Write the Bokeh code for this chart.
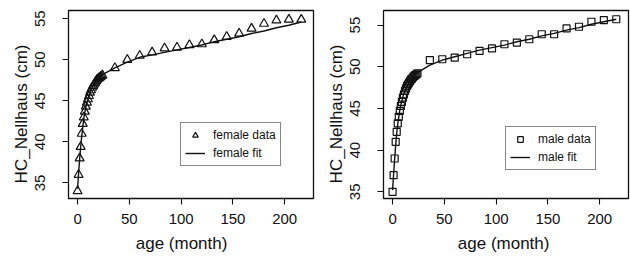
from bokeh.plotting import figure
from bokeh.layouts import row
from bokeh.models import Range1d, FixedTicker, Legend, LegendItem
from bokeh.embed import file_html
from bokeh.resources import INLINE

# ---------------- data ----------------
female_age = list(range(0, 25)) + [36, 48, 60, 72, 84, 96, 108, 120, 132, 144, 156, 168, 180, 192, 204, 216]
female_hc = [34.0, 36.0, 38.0, 39.4, 41.0, 42.2, 43.0, 43.7, 44.3, 44.8, 45.2, 45.6, 46.0, 46.3, 46.6,
             46.8, 47.0, 47.2, 47.4, 47.6, 47.7, 47.8, 47.9, 48.0, 48.1,
             49.0, 50.0, 50.5, 50.9, 51.4, 51.5, 51.8, 51.9, 52.4, 52.8, 53.2, 53.8, 54.4, 54.8, 54.9, 54.9]
female_fit = [34.3, 36.2, 37.9, 39.4, 40.7, 41.8, 42.8, 43.6, 44.2, 44.8, 45.2, 45.6, 46.0, 46.3, 46.6,
              46.9, 47.1, 47.3, 47.5, 47.7, 47.8, 47.9, 48.0, 48.1, 48.2,
              49.0, 49.7, 50.3, 50.6, 50.9, 51.2, 51.5, 51.8, 52.2, 52.5, 52.8, 53.2, 53.5, 53.9, 54.2, 54.6]

male_age = list(range(0, 25)) + [36, 48, 60, 72, 84, 96, 108, 120, 132, 144, 156, 168, 180, 192, 204, 216]
male_hc = [35.0, 37.0, 39.0, 41.0, 42.2, 43.2, 44.0, 44.7, 45.3, 45.8, 46.3, 46.7, 47.1, 47.4, 47.7,
           47.9, 48.1, 48.3, 48.5, 48.6, 48.8, 48.9, 49.0, 49.1, 49.2,
           50.8, 50.9, 51.1, 51.5, 51.9, 52.2, 52.7, 52.9, 53.3, 53.9, 53.9, 54.6, 54.8, 55.4, 55.6, 55.7]
male_fit = [35.2, 37.1, 38.9, 40.6, 42.0, 43.1, 44.0, 44.8, 45.4, 45.9, 46.4, 46.8, 47.1, 47.4, 47.7,
            47.9, 48.1, 48.3, 48.5, 48.7, 48.9, 49.0, 49.1, 49.2, 49.3,
            50.2, 50.8, 51.2, 51.6, 52.0, 52.3, 52.6, 53.0, 53.3, 53.7, 54.0, 54.4, 54.7, 55.1, 55.4, 55.7]

x_ticks = [0, 50, 100, 150, 200]
y_ticks = [35, 40, 45, 50, 55]
x_label = "age (month)"
y_label = "HC_Nellhaus (cm)"

FONT = "Liberation Sans"
INK = "#111111"
PAD = "\u00a0"


def panel(ages, hc, fit, marker, msize, label_data, label_fit, y_range,
          width, height, bl, br, bt, bb, legend_loc, xpad, ypad):
    p = figure(width=width, height=height, output_backend="svg", toolbar_location=None,
               x_range=Range1d(-8.76, 227.8), y_range=Range1d(*y_range),
               min_border_left=bl, min_border_right=br, min_border_top=bt, min_border_bottom=bb)
    p.grid.visible = False
    p.outline_line_color = INK
    p.outline_line_width = 1.3
    p.background_fill_color = "white"
    p.border_fill_color = "white"

    r_line = p.line(ages, fit, line_color=INK, line_width=1.4)
    r_pts = p.scatter(ages, hc, marker=marker, size=msize, fill_color=None,
                      line_color=INK, line_width=1.2)

    for ax in (p.xaxis[0], p.yaxis[0]):
        ax.axis_line_color = None
        ax.major_tick_line_color = INK
        ax.major_tick_line_width = 1.1
        ax.major_tick_out = 6
        ax.major_tick_in = 0
        ax.minor_tick_line_color = None
        ax.major_label_text_font = FONT
        ax.major_label_text_font_size = "15px"
        ax.major_label_text_color = INK
        ax.axis_label_text_font = FONT
        ax.axis_label_text_font_size = "17px"
        ax.axis_label_text_font_style = "normal"
        ax.axis_label_text_color = INK

    p.xaxis.ticker = FixedTicker(ticks=x_ticks)
    p.yaxis.ticker = FixedTicker(ticks=y_ticks)
    p.xaxis.axis_label = x_label + PAD * xpad
    p.yaxis.axis_label = y_label + PAD * ypad
    p.yaxis.major_label_orientation = "vertical"
    p.xaxis.major_label_standoff = 9
    p.xaxis.axis_label_standoff = 7
    p.yaxis.major_label_standoff = 17
    p.yaxis.axis_label_standoff = 2

    legend = Legend(items=[LegendItem(label=label_data, renderers=[r_pts]),
                           LegendItem(label=label_fit, renderers=[r_line])],
                    location=legend_loc)
    legend.border_line_color = INK
    legend.border_line_width = 1.1
    legend.background_fill_alpha = 1.0
    legend.label_text_font = FONT
    legend.label_text_font_size = "12px"
    legend.label_text_color = INK
    legend.glyph_width = 20
    legend.glyph_height = 14
    legend.label_height = 16
    legend.label_standoff = 8
    legend.spacing = 2
    legend.padding = 4
    legend.margin = 0
    p.add_layout(legend, "center")
    return p


p1 = panel(female_age, female_hc, female_fit, "triangle", 9, "female data", "female fit",
           (33.1, 56.0), 315, 262, 68, 2, 5, 64, (112, 32), 4, 4)
p2 = panel(male_age, male_hc, male_fit, "square", 7, "male data", "male fit",
           (34.2, 56.75), 315, 262, 68, 2, 10, 62, (122, 28), 1, 4)

layout = row(p1, p2)
open("out.html", "w").write(file_html(layout, INLINE))
